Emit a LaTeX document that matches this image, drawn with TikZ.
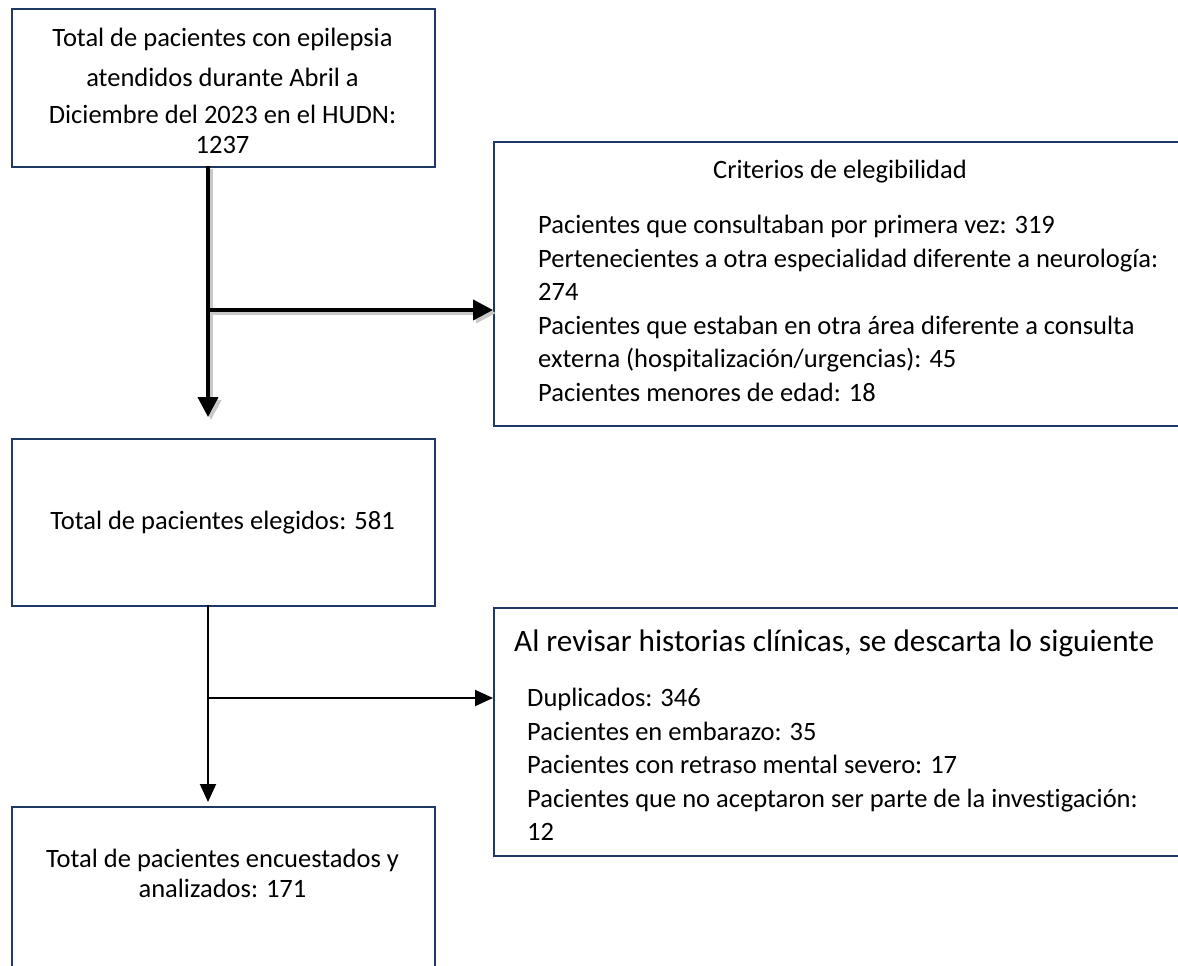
\documentclass[tikz,border=0pt]{standalone}
\usepackage{fontspec}
\setmainfont{Carlito}[Ligatures={NoCommon}]
\usetikzlibrary{arrows.meta,calc}
\definecolor{navy}{HTML}{1F3864}
\definecolor{shade}{HTML}{C8C8C8}
\begin{document}
\begin{tikzpicture}[x=1pt,y=-1pt,
  box/.style={draw=navy, line width=2pt, inner sep=0pt, anchor=north west},
  txt/.style={font=\fontsize{26.5}{32}\selectfont, inner sep=0pt, anchor=base},
  ltxt/.style={txt, anchor=base west},
  big/.style={font=\fontsize{31.2}{36}\selectfont, inner sep=0pt, anchor=base west},
  thickarrow/.style={line width=4pt, -{Triangle[width=20pt,length=20pt]}},
  thickshadow/.style={line width=4pt, draw=shade, -{Triangle[width=20pt,length=20pt,open]}},
  thinarrow/.style={line width=2pt, -{Triangle[width=16pt,length=18pt]}}
]
\useasboundingbox (0,0) rectangle (1178,966);
\clip (0,0) rectangle (1178,966);
\fill[white] (0,0) rectangle (1178,966);

% boxes
\node[box, minimum width=423pt, minimum height=158pt] (b1) at (11,8) {};
\node[box, minimum width=702pt, minimum height=284pt] (b2) at (493,141) {};
\node[box, minimum width=423pt, minimum height=167pt] (b3) at (11,438) {};
\node[box, minimum width=702pt, minimum height=248pt] (b4) at (493,607) {};
\node[box, minimum width=423pt, minimum height=194pt] (b5) at (11,806) {};

% box 1 text
\node[txt] (t11) at (222.5,46.5) {Total de pacientes con epilepsia};
\node[txt] (t12) at (222.5,86.5) {atendidos durante Abril a};
\node[txt] (t13) at (222.5,123.5) {Diciembre del 2023 en el HUDN:};
\node[txt] (t14) at (222.5,153.5) {1237};

% box 2 text
\node[txt] (t20) at (840,178.5) {Criterios de elegibilidad};
\node[ltxt] (t21) at (538,233.5) {Pacientes que consultaban por primera vez: 319};
\node[ltxt] (t22) at (538,267) {Pertenecientes a otra especialidad diferente a neurología:};
\node[ltxt] (t23) at (538,300.5) {274};
\node[ltxt] (t24) at (538,334) {Pacientes que estaban en otra área diferente a consulta};
\node[ltxt] (t25) at (538,367.5) {externa (hospitalización/urgencias): 45};
\node[ltxt] (t26) at (538,401) {Pacientes menores de edad: 18};

% box 3 text
\node[txt] (t31) at (222.5,529.5) {Total de pacientes elegidos: 581};

% box 4 text
\node[big] (t40) at (514,651) {Al revisar historias clínicas, se descarta lo siguiente};
\node[ltxt] (t41) at (527,706.5) {Duplicados: 346};
\node[ltxt] (t42) at (527,740) {Pacientes en embarazo: 35};
\node[ltxt] (t43) at (527,773.5) {Pacientes con retraso mental severo: 17};
\node[ltxt] (t44) at (527,807) {Pacientes que no aceptaron ser parte de la investigación:};
\node[ltxt] (t45) at (527,840.5) {12};

% box 5 text
\node[txt] (t51) at (222.5,867) {Total de pacientes encuestados y};
\node[txt] (t52) at (222.5,897) {analizados: 171};

% connectors
\coordinate (s1) at (208,166);
\coordinate (j1) at (208,310);
\coordinate (e1) at (208,417);
\coordinate (s2) at (208,605);
\coordinate (j2) at (208,698);
\coordinate (e2) at (208,802);

% first connector with shadow
\draw[thickshadow] ($(s1)+(3,3)$) -- ($(e1)+(3,3)$);
\draw[thickshadow] ($(j1)+(3,3)$) -- ($(b2.west|-j1)+(3,3)$);
\draw[thickarrow] (s1) -- (e1);
\draw[thickarrow] (j1) -- (b2.west|-j1);

% second connector
\draw[thinarrow] (s2) -- (e2);
\draw[thinarrow] (j2) -- (b4.west|-j2);
\end{tikzpicture}
\end{document}
